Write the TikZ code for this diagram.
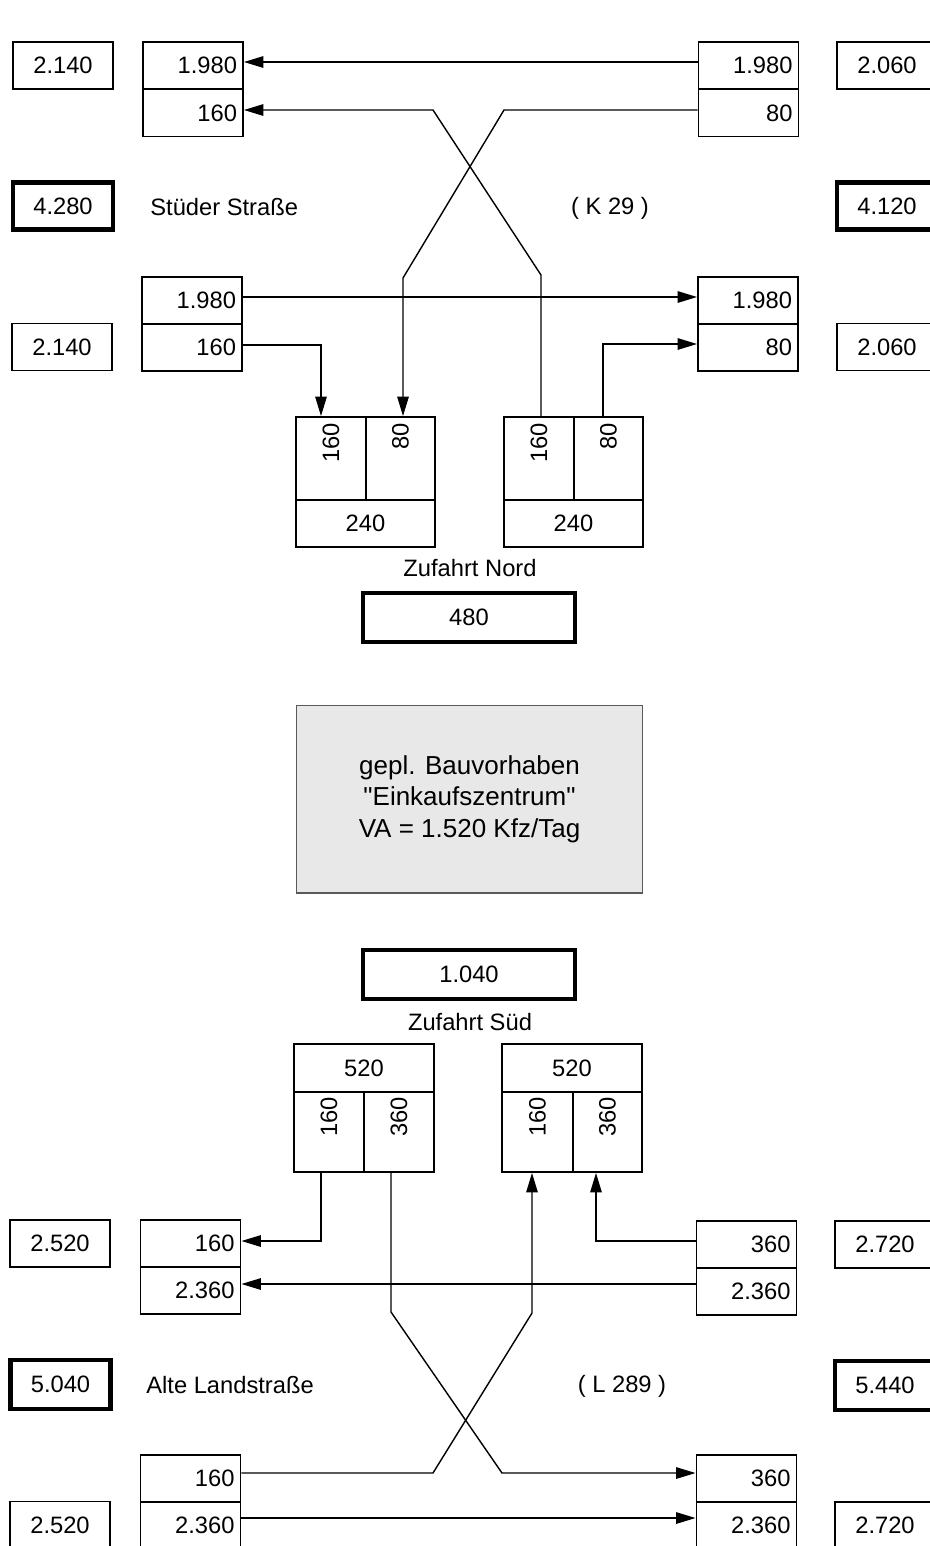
\documentclass[tikz,border=0pt]{standalone}
\usepackage{fontspec}
\setmainfont{Liberation Sans}[Ligatures=TeXOff]
\usetikzlibrary{arrows.meta}
\newcommand\fsz{\fontsize{13.5}{16}\selectfont}
\begin{document}
\begin{tikzpicture}[x=0.02cm,y=-0.02cm,
 valbox/.style={draw, line width=1.1pt, minimum width=2cm, minimum height=0.94cm, inner sep=0pt, font=\fsz},
 rbox/.style={valbox, text width=1.76cm, align=right},
 sumbox/.style={valbox, line width=2.3pt},
 vbox/.style={draw, line width=1.1pt, rotate=90, inner sep=0pt, font=\fsz, align=right},
 arr/.style={line width=0.8pt, -{Triangle[length=11pt,width=6.5pt]}},
 lbl/.style={font=\fsz, inner sep=0pt}]
\useasboundingbox (0,0) rectangle (930,1546);
\fill[white] (0,0) rectangle (930,1546);
\clip (0,0) rectangle (930,1546);

% top: Stueder Strasse
\node[valbox] (TL) at (63,65.5) {2.140};
\node[rbox] (SL1a) at (193,65.5) {1.980};
\node[rbox] (SL1b) at (193,113) {160};
\node[sumbox] (TLs) at (63,206) {4.280};
\node[lbl, anchor=west] (street1) at (150,207) {Stüder Straße};
\node[lbl] (k29) at (610,208) {( K 29 )};
\node[rbox] (SR1a) at (748.5,65.5) {1.980};
\node[rbox] (SR1b) at (748.5,113) {80};
\node[valbox] (TR) at (887,65.5) {2.060};
\node[sumbox] (TRs) at (887,206) {4.120};

\node[rbox] (SL2a) at (192,300.5) {1.980};
\node[rbox] (SL2b) at (192,347.5) {160};
\node[valbox] (ML) at (62,347) {2.140};
\node[rbox] (SR2a) at (748,300.5) {1.980};
\node[rbox] (SR2b) at (748,347.5) {80};
\node[valbox] (MR) at (887,347) {2.060};

% north access
\node[vbox, minimum width=1.66cm, minimum height=1.4cm, text width=1.42cm] (NLa) at (331,458.5) {160};
\node[vbox, minimum width=1.66cm, minimum height=1.38cm, text width=1.42cm] (NLb) at (400.5,458.5) {80};
\node[valbox, minimum width=2.78cm] (NLc) at (365.5,523.5) {240};
\node[vbox, minimum width=1.66cm, minimum height=1.4cm, text width=1.42cm] (NRa) at (539,458.5) {160};
\node[vbox, minimum width=1.66cm, minimum height=1.38cm, text width=1.42cm] (NRb) at (608.5,458.5) {80};
\node[valbox, minimum width=2.78cm] (NRc) at (573.5,523.5) {240};
\node[lbl] (zn) at (470,568) {Zufahrt Nord};
\node[sumbox, minimum width=4.24cm, minimum height=0.98cm] (nord) at (469,617.5) {480};

% project
\node[draw=black!65, line width=0.6pt, fill=black!9, minimum width=6.94cm, minimum height=3.76cm, align=center, font=\fontsize{14.8}{18}\selectfont] (ez) at (469.5,799) {gepl. Bauvorhaben\\"Einkaufszentrum"\\VA = 1.520 Kfz/Tag};

% south access
\node[sumbox, minimum width=4.24cm, minimum height=0.98cm] (sued) at (469,974.5) {1.040};
\node[lbl] (zs) at (470,1022) {Zufahrt Süd};
\node[valbox, minimum width=2.8cm, minimum height=0.96cm] (SLt) at (364,1068) {520};
\node[vbox, minimum width=1.6cm, minimum height=1.4cm, text width=1.4cm] (SLa) at (329,1132) {160};
\node[vbox, minimum width=1.6cm, minimum height=1.4cm, text width=1.4cm] (SLb) at (399,1132) {360};
\node[valbox, minimum width=2.8cm, minimum height=0.96cm] (SRt) at (572,1068) {520};
\node[vbox, minimum width=1.6cm, minimum height=1.42cm, text width=1.4cm] (SRa) at (537.5,1132) {160};
\node[vbox, minimum width=1.6cm, minimum height=1.38cm, text width=1.4cm] (SRb) at (607.5,1132) {360};

% bottom: Alte Landstrasse
\node[valbox] (BL1) at (60,1243.5) {2.520};
\node[rbox] (SL3a) at (190.5,1243.5) {160};
\node[rbox] (SL3b) at (190.5,1290.5) {2.360};
\node[sumbox, minimum height=0.98cm] (BLs) at (60.5,1384.5) {5.040};
\node[lbl, anchor=west] (street2) at (146,1385) {Alte Landstraße};
\node[lbl] (l289) at (622,1386) {( L 289 )};
\node[rbox] (SL4a) at (190.5,1478.5) {160};
\node[rbox] (SL4b) at (190.5,1525.5) {2.360};
\node[valbox] (BL2) at (60,1525) {2.520};
\node[rbox] (SR3a) at (746.5,1244.5) {360};
\node[rbox] (SR3b) at (746.5,1291.5) {2.360};
\node[valbox] (BR1) at (885,1244.5) {2.720};
\node[sumbox, minimum height=0.98cm] (BRs) at (885,1385.5) {5.440};
\node[rbox] (SR4a) at (746.5,1478.5) {360};
\node[rbox] (SR4b) at (746.5,1525.5) {2.360};
\node[valbox] (BR2) at (885,1525.5) {2.720};

% connectors north
\draw[arr] (SR1a.west |- 0,62) -- (SL1a.east |- 0,62);
\draw[arr] (SR1b.west |- 0,110) -- (504,110) -- (403,278) -- (403,0 |- NLb.east);
\draw[arr] (541,0 |- NRa.east) -- (541,275) -- (433,110) -- (SL1b.east |- 0,110);
\draw[arr] (SL2a.east |- 0,297) -- (SR2a.west |- 0,297);
\draw[arr] (SL2b.east |- 0,345) -| (321,0 |- NLa.east);
\draw[arr] (603,0 |- NRb.east) |- (SR2b.west |- 0,344);

% connectors south
\draw[arr] (321,0 |- SLa.west) |- (SL3a.east |- 0,1241);
\draw[arr] (SR3a.west |- 0,1241) -| (596,0 |- SRb.west);
\draw[arr] (SR3b.west |- 0,1284) -- (SL3b.east |- 0,1284);
\draw[arr] (391,0 |- SLb.west) -- (391,1312) -- (502,1473) -- (SR4a.west |- 0,1473);
\draw[arr] (SL4a.east |- 0,1473) -- (433,1473) -- (532,1313) -- (532,0 |- SRa.west);
\draw[arr] (SL4b.east |- 0,1518) -- (SR4b.west |- 0,1518);
\end{tikzpicture}
\end{document}
